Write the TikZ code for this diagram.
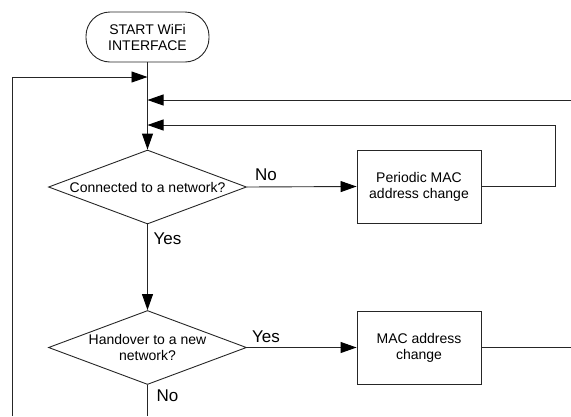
\documentclass[tikz,border=0pt]{standalone}
\usepackage{fontspec}
\setmainfont{Liberation Sans}
\usetikzlibrary{shapes.geometric,arrows.meta}
\begin{document}
\begin{tikzpicture}[x=1pt,y=-1pt,
  every node/.style={inner sep=0pt},
  line/.style={draw=black!85, line width=0.9pt},
  arr/.style={line, -{Triangle[length=16pt,width=11pt,color=black,fill=black]}},
  txt/.style={font=\fontsize{14}{16}\selectfont, align=center},
  lbl/.style={font=\fontsize{17}{19}\selectfont},
  term/.style={line, rounded corners=24pt, minimum width=123pt, minimum height=50pt, txt},
  proc/.style={line, rectangle, minimum width=124pt, minimum height=73pt, txt},
  dec/.style={line, diamond, aspect=2.68, minimum width=198pt, minimum height=74pt, txt}]
\useasboundingbox (0,0) rectangle (571,416);

\node[term] (start) at (147.5,37) {START WiFi\\INTERFACE};
\node[dec] (d1) at (147.5,187) {Connected to a network?};
\node[proc] (b1) at (419,186.5) {Periodic MAC\\address change};
\node[dec] (d2) at (147.5,347.5) {Handover to a new\\network?};
\node[proc] (b2) at (419,347.5) {MAC address\\change};

\coordinate (j1) at (147.5,77);
\coordinate (j2) at (147.5,100);
\coordinate (j3) at (147.5,125);
\coordinate (lb) at (12,416);
\coordinate (lt) at (12,77);
\coordinate (rin) at (571,100);
\coordinate (r1) at (555,186.5);
\coordinate (r1t) at (555,125);
\coordinate (bot) at (147.5,416);
\coordinate (rout) at (571,347.5);

\draw[arr] (start.south) -- (d1.north);
\draw[arr] (lb) -- (lt) -- (j1);
\draw[arr] (rin) -- (j2);
\draw[arr] (b1.east) -- (r1) -- (r1t) -- (j3);
\draw[arr] (d1.east) -- (b1.west);
\draw[arr] (d1.south) -- (d2.north);
\draw[arr] (d2.east) -- (b2.west);
\draw[line] (d2.south) -- (bot);
\draw[line] (b2.east) -- (rout);

\node[lbl] (no1) at (266,175) {No};
\node[lbl] (yes1) at (167.5,239) {Yes};
\node[lbl] (yes2) at (266,337) {Yes};
\node[lbl] (no2) at (167.5,396) {No};
\end{tikzpicture}
\end{document}
